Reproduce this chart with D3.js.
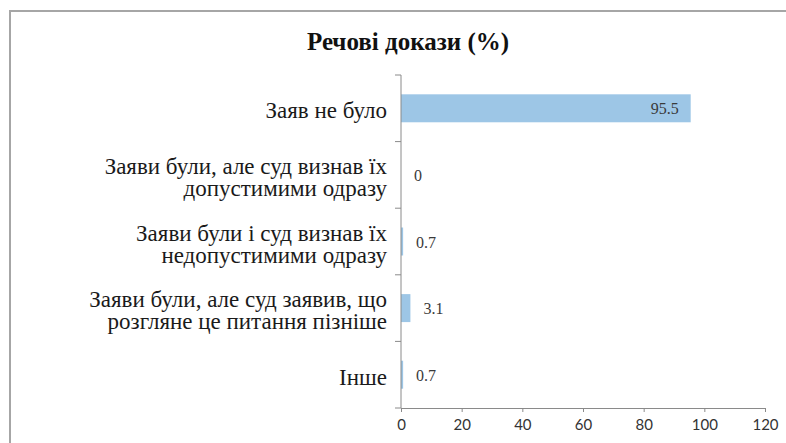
<!DOCTYPE html>
<html>
<head>
<meta charset="utf-8">
<script src="https://cdn.jsdelivr.net/npm/d3@7"></script>
<style>
  html, body { margin: 0; padding: 0; background: #fff; }
  svg { display: block; }
</style>
</head>
<body>
<svg id="chart" width="786" height="443"></svg>
<script>
// Categories (each split into its display lines) and values in percent
const categories = [
  ["Заяв не було"],
  ["Заяви були, але суд визнав їх", "допустимими одразу"],
  ["Заяви були і суд визнав їх", "недопустимими одразу"],
  ["Заяви були, але суд заявив, що", "розгляне це питання пізніше"],
  ["Інше"]
];
const values = [95.5, 0, 0.7, 3.1, 0.7];
const xTicks = [0, 20, 40, 60, 80, 100, 120];
const title = "Речові докази (%)";

const svg = d3.select("#chart");
const W = 786, H = 443;
const margin = { left: 401, right: 21, top: 75, bottom: 35 };
const serif = "'Liberation Serif', 'Times New Roman', serif";

// outer chart frame (runs past the right and bottom edges)
svg.append("rect")
  .attr("x", 10).attr("y", 11)
  .attr("width", W + 20).attr("height", H + 20)
  .attr("fill", "none").attr("stroke", "#a6a6a6").attr("stroke-width", 2);

const x = d3.scaleLinear().domain([0, 120]).range([margin.left, W - margin.right]);
const y = d3.scaleBand()
  .domain(d3.range(categories.length))
  .range([margin.top, H - margin.bottom])
  .paddingInner(0.58).paddingOuter(0.29);

// title
svg.append("text")
  .attr("x", 408).attr("y", 50)
  .attr("text-anchor", "middle")
  .style("font-family", serif)
  .attr("font-weight", "bold")
  .attr("font-size", 25)
  .attr("fill", "#111")
  .text(title);

// bars
svg.append("g").selectAll("rect")
  .data(values)
  .join("rect")
  .attr("x", x(0))
  .attr("y", (d, i) => y(i))
  .attr("width", d => x(d) - x(0))
  .attr("height", y.bandwidth())
  .attr("fill", "#9dc6e6");

// value labels: inside the end of a long bar, just past the end otherwise
svg.append("g").selectAll("text")
  .data(values)
  .join("text")
  .attr("x", d => d > 50 ? x(d) - 12 : x(d) + 13)
  .attr("y", (d, i) => y(i) + y.bandwidth() / 2)
  .attr("dy", "0.38em")
  .attr("text-anchor", d => d > 50 ? "end" : "start")
  .style("font-family", serif)
  .attr("font-size", 16)
  .attr("fill", "#3a3a3a")
  .text(d => d);

// x axis
const xAxis = svg.append("g")
  .attr("transform", `translate(0,${H - margin.bottom})`)
  .call(d3.axisBottom(x).tickValues(xTicks).tickSize(4).tickPadding(7));
xAxis.select(".domain").attr("stroke", "#8a8a8a");
xAxis.selectAll(".tick line").attr("stroke", "#8a8a8a");
xAxis.selectAll(".tick text")
  .style("font-family", "Lato, 'Open Sans', sans-serif")
  .attr("font-size", 15)
  .attr("fill", "#333");

// y axis: line with ticks between categories
const yAxis = svg.append("g");
yAxis.append("line")
  .attr("x1", x(0)).attr("x2", x(0))
  .attr("y1", margin.top).attr("y2", H - margin.bottom)
  .attr("stroke", "#8a8a8a");
const boundaries = d3.range(categories.length + 1).map(i => margin.top + i * (H - margin.bottom - margin.top) / categories.length);
yAxis.selectAll("line.tk")
  .data(boundaries)
  .join("line")
  .attr("class", "tk")
  .attr("x1", x(0) - 6).attr("x2", x(0))
  .attr("y1", d => d).attr("y2", d => d)
  .attr("stroke", "#8a8a8a");

// category labels, wrapped into lines and right-aligned against the axis
const lineH = 22;
const labels = svg.append("g");
categories.forEach((lines, i) => {
  const cy = y(i) + y.bandwidth() / 2;
  const t = labels.append("text")
    .attr("text-anchor", "end")
    .style("font-family", serif)
    .attr("font-size", 23)
    .attr("fill", "#1a1a1a");
  lines.forEach((ln, j) => {
    t.append("tspan")
      .attr("x", 387)
      .attr("y", cy + (j - (lines.length - 1) / 2) * lineH)
      .attr("dy", "0.44em")
      .text(ln);
  });
});
</script>
</body>
</html>
